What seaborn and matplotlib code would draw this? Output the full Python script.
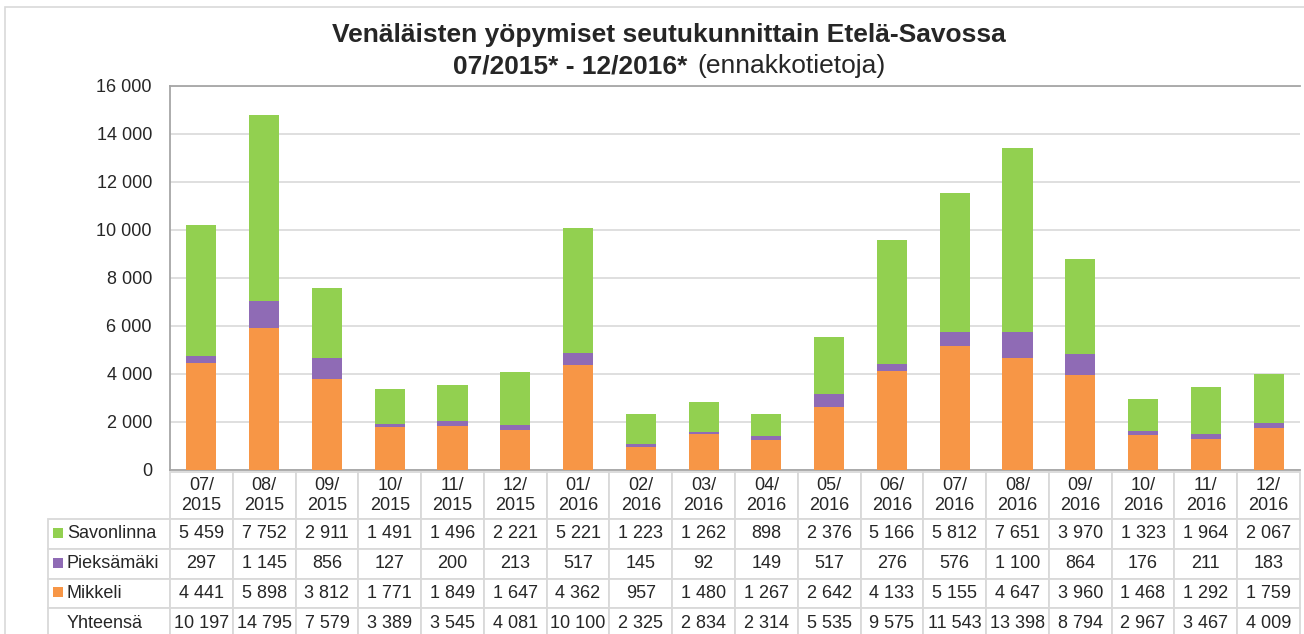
'''
Venäläisten yöpymiset seutukunnittain Etelä-Savossa, stacked bars with a data table.
'''
import numpy as np
import pandas as pd
import seaborn as sns
import matplotlib.pyplot as plt
from matplotlib.patches import Rectangle
from matplotlib.ticker import FuncFormatter, MultipleLocator

months = ["07/\n2015", "08/\n2015", "09/\n2015", "10/\n2015", "11/\n2015", "12/\n2015",
          "01/\n2016", "02/\n2016", "03/\n2016", "04/\n2016", "05/\n2016", "06/\n2016",
          "07/\n2016", "08/\n2016", "09/\n2016", "10/\n2016", "11/\n2016", "12/\n2016"]
savonlinna = [5459, 7752, 2911, 1491, 1496, 2221, 5221, 1223, 1262,
              898, 2376, 5166, 5812, 7651, 3970, 1323, 1964, 2067]
pieksamaki = [297, 1145, 856, 127, 200, 213, 517, 145, 92,
              149, 517, 276, 576, 1100, 864, 176, 211, 183]
mikkeli = [4441, 5898, 3812, 1771, 1849, 1647, 4362, 957, 1480,
           1267, 2642, 4133, 5155, 4647, 3960, 1468, 1292, 1759]
yhteensa = [10197, 14795, 7579, 3389, 3545, 4081, 10100, 2325, 2834,
            2314, 5535, 9575, 11543, 13398, 8794, 2967, 3467, 4009]

series = ["Savonlinna", "Pieksämäki", "Mikkeli"]
colors = {"Savonlinna": "#92D050", "Pieksämäki": "#8F6BB5", "Mikkeli": "#F79646"}

sns.set_style("white")
plt.rcParams["font.family"] = ["Liberation Sans", "DejaVu Sans"]

W, H = 1304, 634
fig = plt.figure(figsize=(W / 100, H / 100), dpi=100)

# plot area in pixels
left, right, top, bottom = 170, 1300, 86, 470
ax = fig.add_axes([left / W, 1 - bottom / H, (right - left) / W, (bottom - top) / H])

df = pd.DataFrame({"month": months, "Savonlinna": savonlinna,
                   "Pieksämäki": pieksamaki, "Mikkeli": mikkeli})
df["top_sav"] = df["Mikkeli"] + df["Pieksämäki"] + df["Savonlinna"]
df["top_pie"] = df["Mikkeli"] + df["Pieksämäki"]

# overplot cumulative heights to get the stack
for col, name in [("top_sav", "Savonlinna"), ("top_pie", "Pieksämäki"), ("Mikkeli", "Mikkeli")]:
    sns.barplot(data=df, x="month", y=col, color=colors[name], width=0.48,
                saturation=1, linewidth=0, ax=ax, zorder=3)

ax.set_xlim(-0.5, len(months) - 0.5)
ax.set_ylim(0, 16000)
ax.yaxis.set_major_locator(MultipleLocator(2000))
ax.yaxis.set_major_formatter(FuncFormatter(lambda v, p: f"{int(v):,}".replace(",", " ")))
ax.grid(axis="y", color="#D9D9D9", linewidth=1.2, zorder=0)
ax.set_axisbelow(True)
ax.set_xlabel("")
ax.set_ylabel("")
ax.tick_params(axis="x", labelbottom=False, length=0)
ax.tick_params(axis="y", length=0, pad=13, labelsize=13)
ax.spines["right"].set_visible(False)
for s in ["left", "bottom", "top"]:
    ax.spines[s].set_color("#A6A6A6")
    ax.spines[s].set_linewidth(1.3)

# data table under the plot, row names kept as the first column
fmt = lambda v: f"{v:,}".replace(",", " ")
row_labels = ["Savonlinna", "Pieksämäki", "Mikkeli", "Yhteensä"]
cell_text = [[lab] + [fmt(v) for v in vals] for lab, vals in
             zip(row_labels, [savonlinna, pieksamaki, mikkeli, yhteensa])]

ax_h = bottom - top
ax_w = right - left
tab_left, tab_top, tab_bottom = 48, 472, 638
head_h = 47
row_h = (tab_bottom - tab_top - head_h) / 4
table = ax.table(cellText=cell_text, colLabels=[""] + months, cellLoc="center",
                 bbox=[(tab_left - left) / ax_w, (bottom - tab_bottom) / ax_h,
                       (right - tab_left) / ax_w, (tab_bottom - tab_top) / ax_h])
table.auto_set_font_size(False)
table.set_fontsize(13)
for (r, c), cell in table.get_celld().items():
    cell.set_edgecolor("#D9D9D9")
    cell.set_linewidth(1.3)
    cell.set_height(head_h if r == 0 else row_h)
    cell.set_width((left - tab_left) if c == 0 else ax_w / len(months))
    if c == 0:
        cell._loc = "left"
        cell.get_text().set_horizontalalignment("left")
        cell.PAD = 0.155
        if r == 0:
            cell.visible_edges = ""

# legend keys in the row name cells
for i, name in enumerate(series):
    yc = tab_top + head_h + row_h * i + row_h / 2 - 1
    fig.patches.append(Rectangle(((tab_left + 5) / W, 1 - (yc + 5) / H), 10 / W, 10 / H,
                                 transform=fig.transFigure, facecolor=colors[name],
                                 edgecolor="none", zorder=5))

# outer chart border
fig.patches.append(Rectangle((5 / W, -0.05), 1.2, 1 - 7 / H + 0.05,
                             transform=fig.transFigure, facecolor="none",
                             edgecolor="#D9D9D9", linewidth=1.2))

fig.text(669 / W, 1 - 35 / H, "Venäläisten yöpymiset seutukunnittain Etelä-Savossa",
         ha="center", va="center", fontsize=19, fontweight="bold")
fig.text(687 / W, 1 - 66 / H, "07/2015* - 12/2016*", ha="right", va="center",
         fontsize=19, fontweight="bold")
fig.text(697 / W, 1 - 66 / H, "(ennakkotietoja)", ha="left", va="center", fontsize=19)

fig.savefig("out.png", dpi=100)
